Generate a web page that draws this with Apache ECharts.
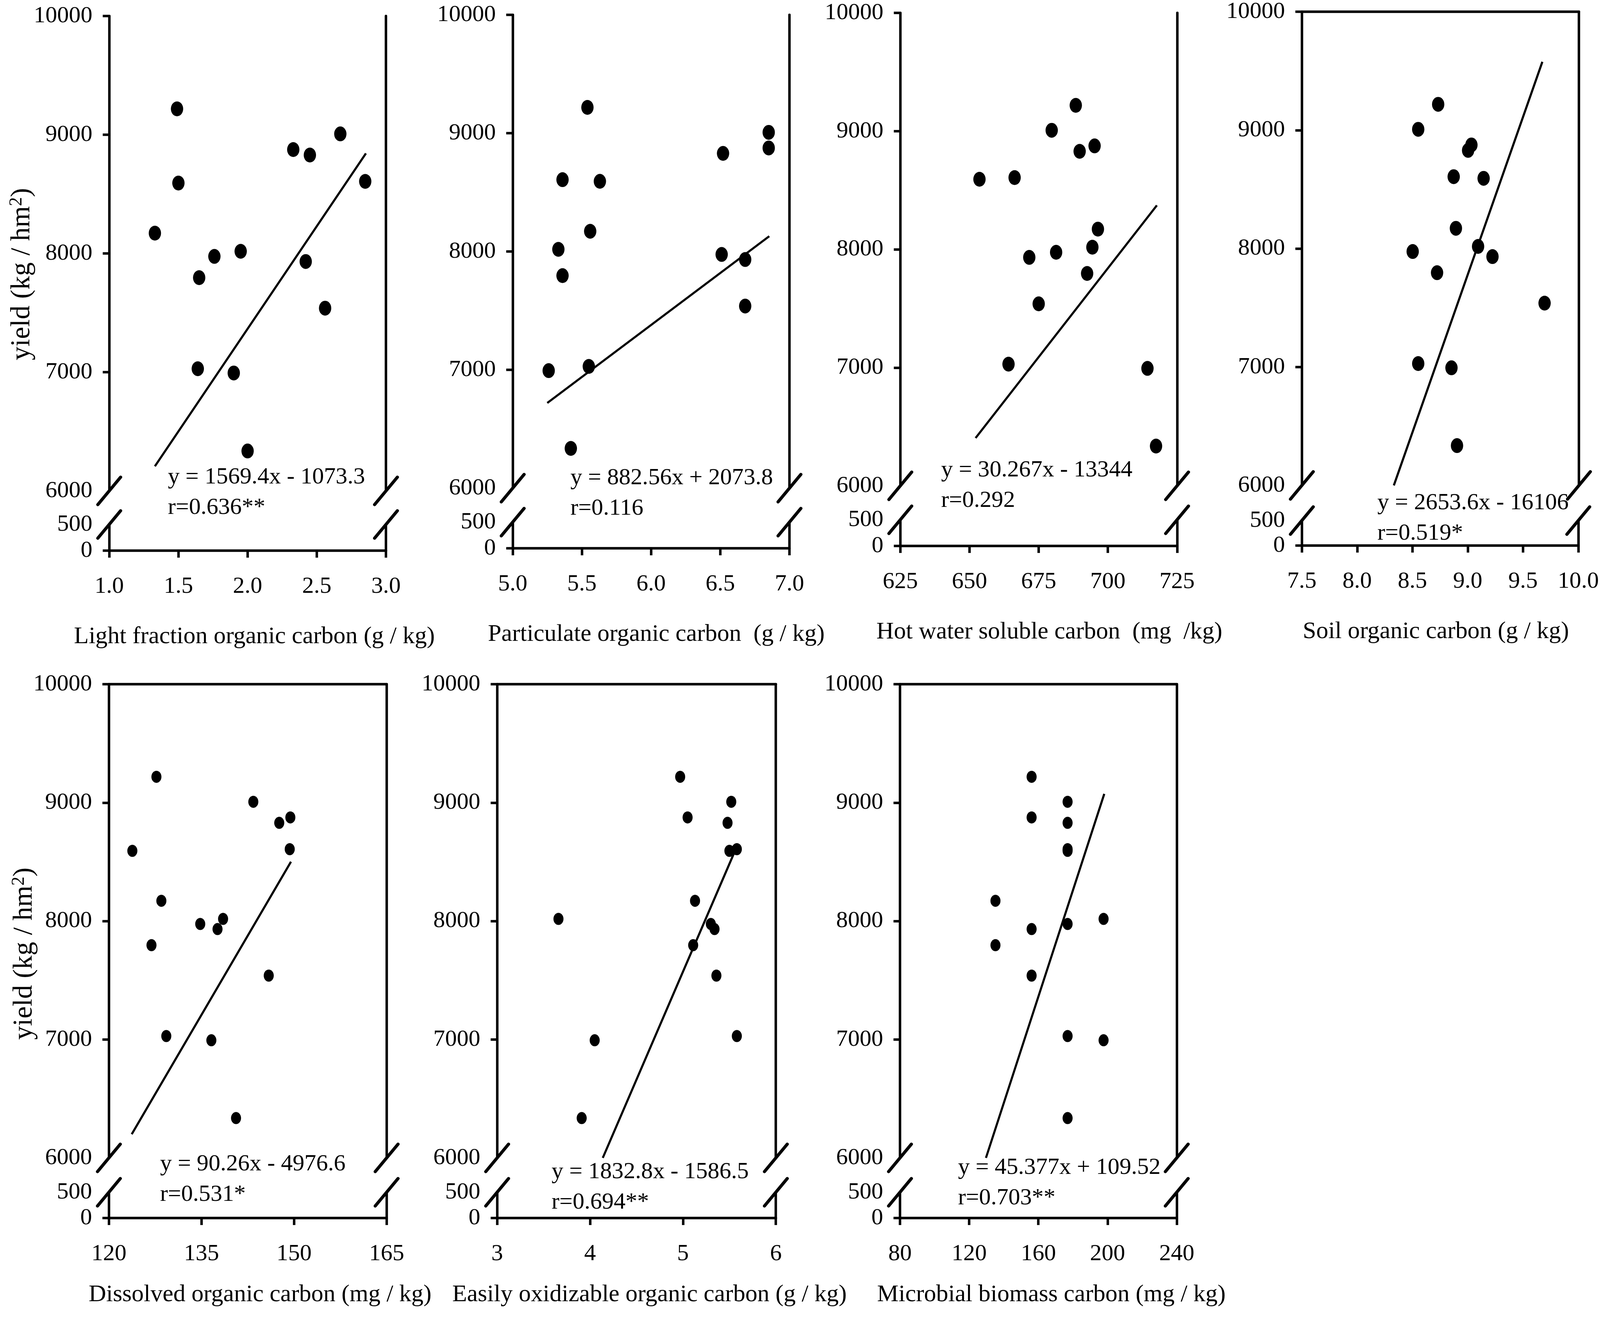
<!DOCTYPE html>
<html>
<head>
<meta charset="utf-8">
<title>yield vs carbon fractions</title>
<script src="https://cdn.jsdelivr.net/npm/echarts@6/dist/echarts.min.js"></script>
<style>
  html, body { margin: 0; padding: 0; background: #fff; overflow: hidden; }
  #chart { width: 100vw; height: 100vh; }
</style>
</head>
<body>
<div id="chart"></div>
<script>
// 产量 (kg/hm2)，每个面板共用同一组样本，按产量从高到低排列
const yieldKg = [9218, 9007, 8875, 8829, 8607, 8593, 8171, 8018, 7975, 7932, 7796, 7539, 7029, 6993, 6336];

// 各碳组分，顺序与 yieldKg 对应
const lfoc = [1.49, 2.67, 2.33, 2.45, 2.85, 1.50, 1.33, 1.95, 1.76, 2.42, 1.65, 2.56, 1.64, 1.90, 2.00];
const poc  = [5.54, 6.85, 6.85, 6.52, 5.36, 5.63, 5.56, 5.33, 6.51, 6.68, 5.36, 6.68, 5.55, 5.26, 5.42];
const hwsc = [688.4, 679.7, 695.2, 689.8, 666.3, 653.6, 696.4, 694.4, 681.3, 671.6, 692.5, 675.0, 664.1, 714.3, 717.4];
const soc  = [8.73, 8.55, 9.03, 9.00, 8.87, 9.14, 8.89, 9.09, 8.50, 9.22, 8.72, 9.69, 8.55, 8.85, 8.90];
const doc  = [127.7, 143.4, 149.4, 147.6, 149.3, 123.8, 128.5, 138.5, 134.8, 137.6, 126.9, 145.9, 129.3, 136.6, 140.6];
const eoc  = [4.97, 5.52, 5.05, 5.48, 5.58, 5.50, 5.13, 3.66, 5.30, 5.34, 5.11, 5.36, 5.58, 4.05, 3.91];
const mbc  = [156.1, 176.9, 156.1, 176.9, 176.9, 176.9, 135.2, 197.7, 176.9, 156.1, 135.2, 156.1, 176.9, 197.7, 176.9];

// 拟合线两端点 [x, y]
const fitLines = [
  [[1.33, 6207], [2.855, 8843]],
  [[5.25, 6720], [6.854, 8129]],
  [[652.2, 6404], [717.7, 8372]],
  [[8.33, 6000], [9.67, 9577]],
  [[123.7, 6200], [149.5, 8501]],
  [[4.137, 6000], [5.548, 8570]],
  [[129.7, 6000], [198.1, 9074]]
];

const xTitles = [
  'Light fraction organic carbon (g / kg)',
  'Particulate organic carbon  (g / kg)',
  'Hot water soluble carbon  (mg  /kg)',
  'Soil organic carbon (g / kg)',
  'Dissolved organic carbon (mg / kg)',
  'Easily oxidizable organic carbon (g / kg)',
  'Microbial biomass carbon (mg / kg)'
];
const equations = [
  'y = 1569.4x - 1073.3', 'y = 882.56x + 2073.8', 'y = 30.267x - 13344', 'y = 2653.6x - 16106',
  'y = 90.26x - 4976.6', 'y = 1832.8x - 1586.5', 'y = 45.377x + 109.52'
];
const rValues = ['r=0.636**', 'r=0.116', 'r=0.292', 'r=0.519*', 'r=0.531*', 'r=0.694**', 'r=0.703**'];

// x 轴范围：最小、最大、间隔、小数位
const xMin = [1.0, 5.0, 625, 7.5, 120, 3, 80];
const xMax = [3.0, 7.0, 725, 10.0, 165, 6, 240];
const xStep = [0.5, 0.5, 25, 0.5, 15, 1, 40];
const xDecimals = [1, 1, 0, 1, 0, 0, 0];

// 断轴上下两段的刻度
const upperLabels = [6000, 7000, 8000, 9000, 10000];
const upperTickVals = [7000, 8000, 9000, 10000];
const lowerLabels = [0, 500];
const lowerTickVals = [0];

const xData = [lfoc, poc, hwsc, soc, doc, eoc, mbc];

// 版面位置 (按 4937 x 3375 的参考像素)；shift 为横轴标题的水平偏移，box 表示是否有上边框
const layout = [
  { l: 337,  r: 1191, t: 41,   y6: 1257, y5: 1343, y0: 1410, shift: 21,  box: false },
  { l: 1582, r: 2436, t: 38,   y6: 1250, y5: 1337, y0: 1404, shift: 16,  box: false },
  { l: 2778, r: 3632, t: 33,   y6: 1244, y5: 1331, y0: 1398, shift: 33,  box: false },
  { l: 4017, r: 4872, t: 30,   y6: 1243, y5: 1333, y0: 1397, shift: -13, box: true },
  { l: 336,  r: 1193, t: 1752, y6: 2965, y5: 3053, y0: 3119, shift: 38,  box: true },
  { l: 1534, r: 2394, t: 1752, y6: 2965, y5: 3053, y0: 3119, shift: 40,  box: true },
  { l: 2777, r: 3631, t: 1752, y6: 2965, y5: 3053, y0: 3119, shift: 40,  box: true }
];
const eqPos = [
  [518, 1183], [1760, 1185], [2904, 1165], [4250, 1249],
  [494, 2942], [1702, 2962], [2956, 2951]
];

const FONT = '"Liberation Serif", "Times New Roman", serif';

const dom = document.getElementById('chart');
const chart = echarts.init(dom, null, { renderer: 'canvas' });
// 参考像素 -> 实际像素，横纵分别缩放以铺满窗口
const SX = chart.getWidth() / 4937;
const SY = chart.getHeight() / 3375;
const SF = Math.sqrt(SX * SY);
const px = function (v) { return v * SX; };
const py = function (v) { return v * SY; };
const pf = function (v) { return v * SF; };
const AX_W = pf(7);

const grid = [], xAxis = [], yAxis = [], series = [], graphic = [];

// 断轴的斜线
function breakMarks(params, api) {
  const p = api.coord([api.value(0), api.value(1)]);
  const q = api.coord([api.value(2), api.value(1)]);
  const dx = px(35), dy = py(35);
  const st = { stroke: '#000', lineWidth: pf(9), lineCap: 'round' };
  return {
    type: 'group',
    children: [p, q].map(function (c) {
      return { type: 'line', shape: { x1: c[0] - dx, y1: c[1] + dy, x2: c[0] + dx, y2: c[1] - dy }, style: st };
    })
  };
}

for (let i = 0; i < 7; i++) {
  const g = layout[i];
  const topRow = i < 4;
  const w = px(g.r - g.l);
  grid.push({ left: px(g.l), top: py(g.t), width: w, height: py(g.y6 - g.t) });
  grid.push({ left: px(g.l), top: py(g.y5), width: w, height: py(g.y0 - g.y5) });

  const dec = xDecimals[i];
  const xVals = [];
  for (let k = 0; xMin[i] + k * xStep[i] <= xMax[i] + 1e-9; k++) {
    xVals.push(+(xMin[i] + k * xStep[i]).toFixed(3));
  }
  // 上段的 x 轴只用来画上边框
  xAxis.push({
    gridIndex: 2 * i, type: 'value', min: xMin[i], max: xMax[i], position: 'top',
    show: g.box,
    axisLine: { show: true, lineStyle: { color: '#000', width: AX_W } },
    axisTick: { show: false }, axisLabel: { show: false }, splitLine: { show: false }
  });
  const sh = px(2 * g.shift);
  xAxis.push({
    gridIndex: 2 * i + 1, type: 'value', min: xMin[i], max: xMax[i], interval: xStep[i],
    axisLine: { show: true, lineStyle: { color: '#000', width: AX_W } },
    axisTick: { show: true, length: py(18), customValues: xVals, lineStyle: { color: '#000', width: AX_W } },
    splitLine: { show: false },
    axisLabel: {
      margin: py(62), color: '#000', fontFamily: FONT, fontSize: pf(66),
      customValues: xVals, hideOverlap: false,
      formatter: function (v) { return v.toFixed(dec); }
    },
    name: xTitles[i], nameLocation: 'middle', nameGap: py(topRow ? 190 : 166),
    nameTextStyle: {
      color: '#000', fontFamily: FONT, fontSize: pf(68),
      padding: [0, sh < 0 ? -sh : 0, 0, sh > 0 ? sh : 0]
    }
  });

  const leftAxis = function (gi, lo, hi, labels, ticks) {
    return {
      gridIndex: gi, type: 'value', position: 'left', min: lo, max: hi,
      axisLine: { show: true, lineStyle: { color: '#000', width: AX_W } },
      axisTick: { show: true, length: px(20), customValues: ticks, lineStyle: { color: '#000', width: AX_W } },
      splitLine: { show: false },
      axisLabel: {
        margin: px(52), color: '#000', fontFamily: FONT, fontSize: pf(66),
        lineHeight: pf(56), customValues: labels, hideOverlap: false,
        formatter: function (v) { return String(v); }
      }
    };
  };
  const rightAxis = function (gi, lo, hi) {
    return {
      gridIndex: gi, type: 'value', position: 'right', min: lo, max: hi,
      axisLine: { show: true, lineStyle: { color: '#000', width: AX_W } },
      axisTick: { show: false }, axisLabel: { show: false }, splitLine: { show: false }
    };
  };
  yAxis.push(leftAxis(2 * i, 6000, 10000, upperLabels, upperTickVals));
  yAxis.push(rightAxis(2 * i, 6000, 10000));
  yAxis.push(leftAxis(2 * i + 1, 0, 500, lowerLabels, lowerTickVals));
  yAxis.push(rightAxis(2 * i + 1, 0, 500));

  const dot = topRow ? 38 : 31;
  series.push({
    type: 'scatter', xAxisIndex: 2 * i, yAxisIndex: 4 * i,
    symbol: 'circle', symbolSize: [px(dot), py(dot)],
    itemStyle: { color: '#000', opacity: 1 },
    data: xData[i].map(function (x, k) { return [x, yieldKg[k]]; })
  });
  series.push({
    type: 'line', xAxisIndex: 2 * i, yAxisIndex: 4 * i,
    showSymbol: false, symbol: 'none',
    lineStyle: { color: '#000', width: pf(6), opacity: 1 },
    data: fitLines[i]
  });
  series.push({
    type: 'custom', xAxisIndex: 2 * i, yAxisIndex: 4 * i, clip: false, z: 5,
    renderItem: breakMarks, data: [[xMin[i], 6000, xMax[i]]]
  });
  series.push({
    type: 'custom', xAxisIndex: 2 * i + 1, yAxisIndex: 4 * i + 2, clip: false, z: 5,
    renderItem: breakMarks, data: [[xMin[i], 500, xMax[i]]]
  });

  graphic.push({
    type: 'text', x: px(eqPos[i][0]), y: py(eqPos[i][1]), z: 10,
    style: {
      text: equations[i] + '\n' + rValues[i],
      fill: '#000', fontFamily: FONT, fontSize: pf(66), lineHeight: py(78),
      align: 'left', verticalAlign: 'top'
    }
  });
}

// 纵轴标题
[[68, 702], [75, 2442]].forEach(function (p) {
  graphic.push({
    type: 'text', x: px(p[0]), y: py(p[1]), rotation: Math.PI / 2, z: 10,
    style: {
      text: '{a|yield (kg / hm}{s|2}{a|)}',
      align: 'center', verticalAlign: 'middle',
      rich: {
        a: { fontFamily: FONT, fontSize: py(70), fill: '#000', lineHeight: pf(80) },
        s: { fontFamily: FONT, fontSize: py(46), fill: '#000', verticalAlign: 'top', lineHeight: pf(80) }
      }
    }
  });
});

chart.setOption({
  backgroundColor: '#fff',
  animation: false,
  grid: grid,
  xAxis: xAxis,
  yAxis: yAxis,
  series: series,
  graphic: graphic
});
</script>
</body>
</html>
